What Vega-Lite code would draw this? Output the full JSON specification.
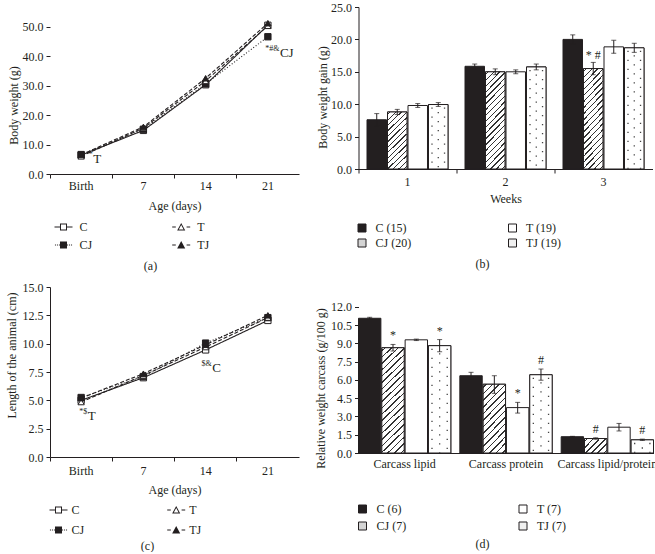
{
"$schema": "https://vega.github.io/schema/vega-lite/v6.json",
"background": "white",
"padding": {"left": 5, "top": 1, "right": 0, "bottom": 0},
"config": {
  "font": "Liberation Serif",
  "view": {"stroke": null},
  "axis": {"labelFont": "Liberation Serif", "labelFontSize": 12, "labelColor": "#231f20", "titleFont": "Liberation Serif", "titleFontSize": 12, "titleFontWeight": "normal", "titleColor": "#231f20", "domainColor": "#231f20", "tickColor": "#231f20", "grid": false, "tickSize": 4, "labelPadding": 3, "labelOverlap": false},
  "legend": {"labelFont": "Liberation Serif", "labelFontSize": 12, "labelColor": "#231f20"},
  "title": {"font": "Liberation Serif", "fontSize": 12, "fontWeight": "normal", "color": "#231f20"},
  "text": {"font": "Liberation Serif"}
},
"datasets": {
  "lineA": [
    {"day": "Birth", "group": "C", "v": 6.4}, {"day": "Birth", "group": "CJ", "v": 6.6}, {"day": "Birth", "group": "T", "v": 6.0}, {"day": "Birth", "group": "TJ", "v": 6.5},
    {"day": "7", "group": "C", "v": 14.8}, {"day": "7", "group": "CJ", "v": 15.2}, {"day": "7", "group": "T", "v": 15.6}, {"day": "7", "group": "TJ", "v": 16.0},
    {"day": "14", "group": "C", "v": 30.3}, {"day": "14", "group": "CJ", "v": 30.6}, {"day": "14", "group": "T", "v": 31.6}, {"day": "14", "group": "TJ", "v": 32.5},
    {"day": "21", "group": "C", "v": 50.5}, {"day": "21", "group": "CJ", "v": 46.6}, {"day": "21", "group": "T", "v": 50.3}, {"day": "21", "group": "TJ", "v": 51.2}
  ],
  "annA": [
    {"day": "Birth", "y": 5.1, "sup": "*", "main": "T"},
    {"day": "21", "y": 41.2, "sup": "*#&", "main": "CJ"}
  ],
  "lineC": [
    {"day": "Birth", "group": "C", "v": 5.0}, {"day": "Birth", "group": "CJ", "v": 5.25}, {"day": "Birth", "group": "T", "v": 4.85}, {"day": "Birth", "group": "TJ", "v": 5.2},
    {"day": "7", "group": "C", "v": 7.0}, {"day": "7", "group": "CJ", "v": 7.1}, {"day": "7", "group": "T", "v": 7.2}, {"day": "7", "group": "TJ", "v": 7.35},
    {"day": "14", "group": "C", "v": 9.45}, {"day": "14", "group": "CJ", "v": 10.05}, {"day": "14", "group": "T", "v": 9.7}, {"day": "14", "group": "TJ", "v": 9.9},
    {"day": "21", "group": "C", "v": 12.05}, {"day": "21", "group": "CJ", "v": 12.3}, {"day": "21", "group": "T", "v": 12.3}, {"day": "21", "group": "TJ", "v": 12.5}
  ],
  "annC": [
    {"day": "Birth", "y": 3.62, "sup": "*$", "main": "T"},
    {"day": "14", "y": 7.85, "sup": "$&", "main": "C"}
  ],
  "barB": [
    {"week": "1", "group": "C", "v": 7.6, "lo": 6.7, "hi": 8.55},
    {"week": "1", "group": "CJ", "v": 8.8, "lo": 8.4, "hi": 9.2},
    {"week": "1", "group": "T", "v": 9.8, "lo": 9.5, "hi": 10.1},
    {"week": "1", "group": "TJ", "v": 9.95, "lo": 9.65, "hi": 10.25},
    {"week": "2", "group": "C", "v": 15.85, "lo": 15.5, "hi": 16.2},
    {"week": "2", "group": "CJ", "v": 15.0, "lo": 14.55, "hi": 15.45},
    {"week": "2", "group": "T", "v": 15.0, "lo": 14.7, "hi": 15.3},
    {"week": "2", "group": "TJ", "v": 15.75, "lo": 15.3, "hi": 16.2},
    {"week": "3", "group": "C", "v": 20.0, "lo": 19.3, "hi": 20.7},
    {"week": "3", "group": "CJ", "v": 15.5, "lo": 14.55, "hi": 16.45},
    {"week": "3", "group": "T", "v": 18.85, "lo": 17.85, "hi": 19.85},
    {"week": "3", "group": "TJ", "v": 18.7, "lo": 18.0, "hi": 19.4}
  ],
  "annB": [
    {"week": "3", "group": "CJ", "hi": 16.45, "t": "* #"}
  ],
  "barD": [
    {"cat": "Carcass lipid", "group": "C", "v": 11.07, "lo": 10.98, "hi": 11.15},
    {"cat": "Carcass lipid", "group": "CJ", "v": 8.65, "lo": 8.38, "hi": 8.92},
    {"cat": "Carcass lipid", "group": "T", "v": 9.3, "lo": 9.24, "hi": 9.36},
    {"cat": "Carcass lipid", "group": "TJ", "v": 8.82, "lo": 8.32, "hi": 9.32},
    {"cat": "Carcass protein", "group": "C", "v": 6.35, "lo": 6.07, "hi": 6.63},
    {"cat": "Carcass protein", "group": "CJ", "v": 5.65, "lo": 4.9, "hi": 6.35},
    {"cat": "Carcass protein", "group": "T", "v": 3.73, "lo": 3.28, "hi": 4.16},
    {"cat": "Carcass protein", "group": "TJ", "v": 6.43, "lo": 5.98, "hi": 6.9},
    {"cat": "Carcass lipid/protein", "group": "C", "v": 1.34, "lo": 1.31, "hi": 1.37},
    {"cat": "Carcass lipid/protein", "group": "CJ", "v": 1.19, "lo": 1.13, "hi": 1.25},
    {"cat": "Carcass lipid/protein", "group": "T", "v": 2.12, "lo": 1.81, "hi": 2.43},
    {"cat": "Carcass lipid/protein", "group": "TJ", "v": 1.08, "lo": 1.03, "hi": 1.14}
  ],
  "annD": [
    {"cat": "Carcass lipid", "group": "CJ", "hi": 8.92, "t": "*"},
    {"cat": "Carcass lipid", "group": "TJ", "hi": 9.32, "t": "*"},
    {"cat": "Carcass protein", "group": "T", "hi": 4.16, "t": "*"},
    {"cat": "Carcass protein", "group": "TJ", "hi": 6.9, "t": "#"},
    {"cat": "Carcass lipid/protein", "group": "CJ", "hi": 1.25, "t": "#"},
    {"cat": "Carcass lipid/protein", "group": "TJ", "hi": 1.14, "t": "#"}
  ]
},
"columns": 2,
"spacing": {"row": 113, "column": 59.5},
"bounds": "flush",
"resolve": {"scale": {"fill": "independent", "shape": "independent", "strokeDash": "independent", "xOffset": "independent", "color": "independent", "size": "independent", "opacity": "independent", "stroke": "independent"}},
"concat": [
{
  "width": 249, "height": 167,
  "title": {"text": "(a)", "orient": "bottom", "anchor": "middle", "frame": "group", "offset": 10, "dx": -24},
  "resolve": {"scale": {"shape": "independent"}},
  "data": {"name": "lineA"},
  "encoding": {
    "x": {"field": "day", "type": "ordinal", "bandPosition": 0.5, "scale": {"type": "band", "domain": ["Birth", "7", "14", "21"], "paddingInner": 0, "paddingOuter": 0}, "axis": {"title": "Age (days)", "bandPosition": 0, "labelOffset": 0, "labelAngle": 0, "labelPadding": 2, "titleY": 31, "titleBaseline": "middle"}},
    "y": {"field": "v", "type": "quantitative", "scale": {"domain": [0, 56.7], "nice": false}, "axis": {"title": "Body weight (g)", "values": [0, 10, 20, 30, 40, 50], "format": ".1f", "domain": false, "titleX": -36.5, "titleY": 98, "titleBaseline": "middle"}}
  },
  "layer": [
    {"data": {"values": [{}]}, "mark": {"type": "rule", "color": "#231f20", "strokeWidth": 1},
     "encoding": {"x": {"datum": "Birth", "type": "ordinal", "bandPosition": 0}, "y": {"datum": 0, "type": "quantitative"}, "y2": {"datum": 55}}},
    {"mark": {"type": "line", "color": "#231f20", "strokeWidth": 1.1},
     "encoding": {
       "strokeDash": {"field": "group", "type": "nominal", "scale": {"domain": ["C", "T", "CJ", "TJ"], "range": [[1, 0], [4, 2], [1, 2], [4, 2]]}, "legend": null}
     }},
    {"mark": {"type": "point", "filled": true, "stroke": "#231f20", "strokeWidth": 1, "size": 40, "opacity": 1},
     "encoding": {
       "shape": {"field": "group", "type": "nominal", "scale": {"domain": ["C", "CJ", "T", "TJ"], "range": ["square", "square", "triangle-up", "triangle-up"]}, "legend": null},
       "fill": {"field": "group", "type": "nominal", "scale": {"domain": ["C", "CJ", "T", "TJ"], "range": ["white", "#231f20", "white", "#231f20"]}, "legend": null}
     }},
    {"mark": {"type": "point", "filled": true, "opacity": 0, "color": "#231f20"},
     "encoding": {
       "shape": {"field": "group", "type": "nominal",
         "scale": {"domain": ["C", "CJ", "T", "TJ"], "range": [
           "M-1,-0.055H-0.39V0.055H-1Z M-0.39,-0.39H0.39V0.39H-0.39Z M-0.28,-0.28V0.28H0.28V-0.28Z M0.39,-0.055H1V0.055H0.39Z",
           "M-0.95,-0.055h0.11v0.11h-0.11Z M-0.73,-0.055h0.11v0.11h-0.11Z M-0.51,-0.055h0.11v0.11h-0.11Z M-0.39,-0.39H0.39V0.39H-0.39Z M0.4,-0.055h0.11v0.11h-0.11Z M0.62,-0.055h0.11v0.11h-0.11Z M0.84,-0.055h0.11v0.11h-0.11Z",
           "M-1,-0.055H-0.6V0.055H-1Z M0,-0.45L0.45,0.38L-0.45,0.38Z M0,-0.22L-0.266,0.27L0.266,0.27Z M0.6,-0.055H1V0.055H0.6Z",
           "M-1,-0.055H-0.6V0.055H-1Z M0,-0.45L0.45,0.38L-0.45,0.38Z M0.6,-0.055H1V0.055H0.6Z"]},
         "legend": {"orient": "none", "legendX": 4.5, "legendY": 211, "columns": 2, "columnPadding": 79.7, "rowPadding": 3, "title": null, "values": ["C", "CJ", "T", "TJ"], "symbolSize": 324, "symbolOpacity": 1, "symbolStrokeWidth": 0, "labelOffset": 7}}
     }},
    {"data": {"name": "annA"}, "mark": {"type": "text", "align": "left", "baseline": "middle", "dx": 12, "fontSize": 13, "color": "#231f20"},
     "encoding": {"y": {"field": "y", "type": "quantitative"}, "text": {"field": "main"}}},
    {"data": {"name": "annA"}, "mark": {"type": "text", "align": "right", "baseline": "middle", "dx": 11.5, "dy": -4, "fontSize": 8, "color": "#231f20"},
     "encoding": {"y": {"field": "y", "type": "quantitative"}, "text": {"field": "sup"}}}
  ]
},
{
  "width": 294, "height": 162,
  "title": {"text": "(b)", "orient": "bottom", "anchor": "middle", "frame": "group", "offset": 10, "dx": -23},
  "data": {"name": "barB"},
  "encoding": {
    "x": {"field": "week", "type": "ordinal", "scale": {"type": "band", "domain": ["1", "2", "3"], "paddingInner": 0, "paddingOuter": 0}, "axis": {"title": "Weeks", "bandPosition": 0, "labelOffset": 0, "labelAngle": 0, "titleY": 29, "titleBaseline": "middle"}},
    "y": {"field": "v", "type": "quantitative", "scale": {"domain": [0, 25], "nice": false}, "axis": {"title": "Body weight gain (g)", "values": [0, 5, 10, 15, 20, 25], "format": ".1f", "titleX": -36, "titleY": 90, "titleBaseline": "middle"}}
  },
  "layer": [
    {"mark": {"type": "bar", "stroke": "#231f20", "strokeWidth": 1},
     "encoding": {
       "xOffset": {"field": "group", "type": "nominal", "scale": {"domain": ["C", "CJ", "T", "TJ"], "paddingInner": 0.05, "paddingOuter": 0.415}},
       "fill": {"field": "group", "type": "nominal",
         "scale": {"domain": ["C", "CJ", "T", "TJ"], "range": ["#231f20", "#d4d4d4", "white", "#f0f0f0"]},
         "legend": {"orient": "none", "legendX": -2.5, "legendY": 215, "columns": 2, "columnPadding": 94.5, "rowPadding": 3, "title": null, "symbolType": "square", "symbolSize": 64, "symbolStrokeColor": "#231f20", "symbolStrokeWidth": 1, "labelOffset": 7.5,
           "labelExpr": "datum.label == 'C' ? 'C (15)' : datum.label == 'CJ' ? 'CJ (20)' : datum.label == 'T' ? 'T (19)' : 'TJ (19)'"}}
     }},
    {"transform": [{"filter": "datum.group == 'CJ' && datum.week != '1'"}],
     "mark": {"type": "bar", "stroke": "#231f20", "strokeWidth": 1, "fill": {"gradient": "linear", "x1": 0, "y1": 0, "x2": 0.237, "y2": 1.156, "stops": [
       {"offset":0.019,"color":"white"},{"offset":0.019,"color":"#333"},{"offset":0.031,"color":"#333"},{"offset":0.031,"color":"white"},
       {"offset":0.069,"color":"white"},{"offset":0.069,"color":"#333"},{"offset":0.081,"color":"#333"},{"offset":0.081,"color":"white"},
       {"offset":0.119,"color":"white"},{"offset":0.119,"color":"#333"},{"offset":0.131,"color":"#333"},{"offset":0.131,"color":"white"},
       {"offset":0.169,"color":"white"},{"offset":0.169,"color":"#333"},{"offset":0.181,"color":"#333"},{"offset":0.181,"color":"white"},
       {"offset":0.219,"color":"white"},{"offset":0.219,"color":"#333"},{"offset":0.231,"color":"#333"},{"offset":0.231,"color":"white"},
       {"offset":0.269,"color":"white"},{"offset":0.269,"color":"#333"},{"offset":0.281,"color":"#333"},{"offset":0.281,"color":"white"},
       {"offset":0.319,"color":"white"},{"offset":0.319,"color":"#333"},{"offset":0.331,"color":"#333"},{"offset":0.331,"color":"white"},
       {"offset":0.369,"color":"white"},{"offset":0.369,"color":"#333"},{"offset":0.381,"color":"#333"},{"offset":0.381,"color":"white"},
       {"offset":0.419,"color":"white"},{"offset":0.419,"color":"#333"},{"offset":0.431,"color":"#333"},{"offset":0.431,"color":"white"},
       {"offset":0.469,"color":"white"},{"offset":0.469,"color":"#333"},{"offset":0.481,"color":"#333"},{"offset":0.481,"color":"white"},
       {"offset":0.519,"color":"white"},{"offset":0.519,"color":"#333"},{"offset":0.531,"color":"#333"},{"offset":0.531,"color":"white"},
       {"offset":0.569,"color":"white"},{"offset":0.569,"color":"#333"},{"offset":0.581,"color":"#333"},{"offset":0.581,"color":"white"},
       {"offset":0.619,"color":"white"},{"offset":0.619,"color":"#333"},{"offset":0.631,"color":"#333"},{"offset":0.631,"color":"white"},
       {"offset":0.669,"color":"white"},{"offset":0.669,"color":"#333"},{"offset":0.681,"color":"#333"},{"offset":0.681,"color":"white"},
       {"offset":0.719,"color":"white"},{"offset":0.719,"color":"#333"},{"offset":0.731,"color":"#333"},{"offset":0.731,"color":"white"},
       {"offset":0.769,"color":"white"},{"offset":0.769,"color":"#333"},{"offset":0.781,"color":"#333"},{"offset":0.781,"color":"white"},
       {"offset":0.819,"color":"white"},{"offset":0.819,"color":"#333"},{"offset":0.831,"color":"#333"},{"offset":0.831,"color":"white"},
       {"offset":0.869,"color":"white"},{"offset":0.869,"color":"#333"},{"offset":0.881,"color":"#333"},{"offset":0.881,"color":"white"},
       {"offset":0.919,"color":"white"},{"offset":0.919,"color":"#333"},{"offset":0.931,"color":"#333"},{"offset":0.931,"color":"white"},
       {"offset":0.969,"color":"white"},{"offset":0.969,"color":"#333"},{"offset":0.981,"color":"#333"},{"offset":0.981,"color":"white"}]}},
     "encoding": {"xOffset": {"field": "group", "type": "nominal"}}},
    {"transform": [{"filter": "datum.group == 'CJ' && datum.week == '1'"}],
     "mark": {"type": "bar", "stroke": "#231f20", "strokeWidth": 1, "fill": {"gradient": "linear", "x1": 0, "y1": 0, "x2": 0.4, "y2": 1.2, "stops": [
       {"offset":0.0271,"color":"white"},{"offset":0.0271,"color":"#333"},{"offset":0.0443,"color":"#333"},{"offset":0.0443,"color":"white"},
       {"offset":0.0986,"color":"white"},{"offset":0.0986,"color":"#333"},{"offset":0.1157,"color":"#333"},{"offset":0.1157,"color":"white"},
       {"offset":0.17,"color":"white"},{"offset":0.17,"color":"#333"},{"offset":0.1871,"color":"#333"},{"offset":0.1871,"color":"white"},
       {"offset":0.2414,"color":"white"},{"offset":0.2414,"color":"#333"},{"offset":0.2586,"color":"#333"},{"offset":0.2586,"color":"white"},
       {"offset":0.3129,"color":"white"},{"offset":0.3129,"color":"#333"},{"offset":0.33,"color":"#333"},{"offset":0.33,"color":"white"},
       {"offset":0.3843,"color":"white"},{"offset":0.3843,"color":"#333"},{"offset":0.4014,"color":"#333"},{"offset":0.4014,"color":"white"},
       {"offset":0.4557,"color":"white"},{"offset":0.4557,"color":"#333"},{"offset":0.4729,"color":"#333"},{"offset":0.4729,"color":"white"},
       {"offset":0.5271,"color":"white"},{"offset":0.5271,"color":"#333"},{"offset":0.5443,"color":"#333"},{"offset":0.5443,"color":"white"},
       {"offset":0.5986,"color":"white"},{"offset":0.5986,"color":"#333"},{"offset":0.6157,"color":"#333"},{"offset":0.6157,"color":"white"},
       {"offset":0.67,"color":"white"},{"offset":0.67,"color":"#333"},{"offset":0.6871,"color":"#333"},{"offset":0.6871,"color":"white"},
       {"offset":0.7414,"color":"white"},{"offset":0.7414,"color":"#333"},{"offset":0.7586,"color":"#333"},{"offset":0.7586,"color":"white"},
       {"offset":0.8129,"color":"white"},{"offset":0.8129,"color":"#333"},{"offset":0.83,"color":"#333"},{"offset":0.83,"color":"white"},
       {"offset":0.8843,"color":"white"},{"offset":0.8843,"color":"#333"},{"offset":0.9014,"color":"#333"},{"offset":0.9014,"color":"white"},
       {"offset":0.9557,"color":"white"},{"offset":0.9557,"color":"#333"},{"offset":0.9729,"color":"#333"},{"offset":0.9729,"color":"white"}]}},
     "encoding": {"xOffset": {"field": "group", "type": "nominal"}}},
    {"transform": [{"filter": "datum.group == 'TJ'"}],
     "mark": {"type": "bar", "stroke": "#231f20", "strokeWidth": 1, "fill": "white"},
     "encoding": {"xOffset": {"field": "group", "type": "nominal"}}},
    {"transform": [{"filter": "datum.group == 'TJ'"}],
     "mark": {"type": "rule", "color": "#444", "strokeWidth": 1.3, "strokeDash": [1.3, 7.7], "strokeDashOffset": 6},
     "encoding": {"x": {"field": "week", "type": "ordinal", "bandPosition": 0.75}, "y2": {"datum": 0}}},
    {"transform": [{"filter": "datum.group == 'TJ'"}],
     "mark": {"type": "rule", "color": "#444", "strokeWidth": 1.3, "strokeDash": [1.3, 7.7], "strokeDashOffset": 1.5},
     "encoding": {"x": {"field": "week", "type": "ordinal", "bandPosition": 0.814}, "y2": {"datum": 0}}},
    {"transform": [{"filter": "datum.group == 'TJ'"}],
     "mark": {"type": "rule", "color": "#444", "strokeWidth": 1.3, "strokeDash": [1.3, 7.7], "strokeDashOffset": 6},
     "encoding": {"x": {"field": "week", "type": "ordinal", "bandPosition": 0.878}, "y2": {"datum": 0}}},
    {"mark": {"type": "rule", "color": "#231f20", "strokeWidth": 1},
     "encoding": {"xOffset": {"field": "group", "type": "nominal"}, "y": {"field": "lo", "type": "quantitative"}, "y2": {"field": "hi"}}},
    {"mark": {"type": "tick", "color": "#231f20", "thickness": 1, "size": 5},
     "encoding": {"xOffset": {"field": "group", "type": "nominal"}, "y": {"field": "hi", "type": "quantitative"}}},
    {"mark": {"type": "tick", "color": "#231f20", "thickness": 1, "size": 5},
     "encoding": {"xOffset": {"field": "group", "type": "nominal"}, "y": {"field": "lo", "type": "quantitative"}}},
    {"data": {"name": "annB"}, "mark": {"type": "text", "baseline": "middle", "dy": -7, "fontSize": 12, "color": "#231f20"},
     "encoding": {"xOffset": {"field": "group", "type": "nominal"}, "y": {"field": "hi", "type": "quantitative"}, "text": {"field": "t"}}}
  ]
},
{
  "width": 249, "height": 170,
  "title": {"text": "(c)", "orient": "bottom", "anchor": "middle", "frame": "group", "offset": 5, "dx": -27},
  "resolve": {"scale": {"shape": "independent"}},
  "data": {"name": "lineC"},
  "encoding": {
    "x": {"field": "day", "type": "ordinal", "bandPosition": 0.5, "scale": {"type": "band", "domain": ["Birth", "7", "14", "21"], "paddingInner": 0, "paddingOuter": 0}, "axis": {"title": "Age (days)", "bandPosition": 0, "labelOffset": 0, "labelAngle": 0, "labelPadding": 4, "titleY": 32, "titleBaseline": "middle"}},
    "y": {"field": "v", "type": "quantitative", "scale": {"domain": [0, 15], "nice": false}, "axis": {"title": "Length of the animal (cm)", "values": [0, 2.5, 5, 7.5, 10, 12.5, 15], "format": ".1f", "titleX": -38.5, "titleY": 68, "titleBaseline": "middle"}}
  },
  "layer": [
    {"mark": {"type": "line", "color": "#231f20", "strokeWidth": 1.1},
     "encoding": {
       "strokeDash": {"field": "group", "type": "nominal", "scale": {"domain": ["C", "T", "CJ", "TJ"], "range": [[1, 0], [4, 2], [1, 2], [4, 2]]}, "legend": null}
     }},
    {"mark": {"type": "point", "filled": true, "stroke": "#231f20", "strokeWidth": 1, "size": 40, "opacity": 1},
     "encoding": {
       "shape": {"field": "group", "type": "nominal", "scale": {"domain": ["C", "CJ", "T", "TJ"], "range": ["square", "square", "triangle-up", "triangle-up"]}, "legend": null},
       "fill": {"field": "group", "type": "nominal", "scale": {"domain": ["C", "CJ", "T", "TJ"], "range": ["white", "#231f20", "white", "#231f20"]}, "legend": null}
     }},
    {"mark": {"type": "point", "filled": true, "opacity": 0, "color": "#231f20"},
     "encoding": {
       "shape": {"field": "group", "type": "nominal",
         "scale": {"domain": ["C", "CJ", "T", "TJ"], "range": [
           "M-1,-0.055H-0.39V0.055H-1Z M-0.39,-0.39H0.39V0.39H-0.39Z M-0.28,-0.28V0.28H0.28V-0.28Z M0.39,-0.055H1V0.055H0.39Z",
           "M-0.95,-0.055h0.11v0.11h-0.11Z M-0.73,-0.055h0.11v0.11h-0.11Z M-0.51,-0.055h0.11v0.11h-0.11Z M-0.39,-0.39H0.39V0.39H-0.39Z M0.4,-0.055h0.11v0.11h-0.11Z M0.62,-0.055h0.11v0.11h-0.11Z M0.84,-0.055h0.11v0.11h-0.11Z",
           "M-1,-0.055H-0.6V0.055H-1Z M0,-0.45L0.45,0.38L-0.45,0.38Z M0,-0.22L-0.266,0.27L0.266,0.27Z M0.6,-0.055H1V0.055H0.6Z",
           "M-1,-0.055H-0.6V0.055H-1Z M0,-0.45L0.45,0.38L-0.45,0.38Z M0.6,-0.055H1V0.055H0.6Z"]},
         "legend": {"orient": "none", "legendX": -0.5, "legendY": 214, "columns": 2, "columnPadding": 82.7, "rowPadding": 5, "title": null, "values": ["C", "CJ", "T", "TJ"], "symbolSize": 324, "symbolOpacity": 1, "symbolStrokeWidth": 0, "labelOffset": 4}}
     }},
    {"data": {"name": "annC"}, "mark": {"type": "text", "align": "left", "baseline": "middle", "dx": 6.5, "fontSize": 13, "color": "#231f20"},
     "encoding": {"y": {"field": "y", "type": "quantitative"}, "text": {"field": "main"}}},
    {"data": {"name": "annC"}, "mark": {"type": "text", "align": "right", "baseline": "middle", "dx": 6, "dy": -4, "fontSize": 8, "color": "#231f20"},
     "encoding": {"y": {"field": "y", "type": "quantitative"}, "text": {"field": "sup"}}}
  ]
},
{
  "width": 295, "height": 166,
  "title": {"text": "(d)", "orient": "bottom", "anchor": "middle", "frame": "group", "offset": 7, "dx": -23.5},
  "data": {"name": "barD"},
  "encoding": {
    "x": {"field": "cat", "type": "ordinal", "scale": {"type": "band", "domain": ["Carcass lipid", "Carcass protein", "Carcass lipid/protein"], "paddingInner": 0.089, "paddingOuter": 0}, "axis": {"title": null, "ticks": false, "labelPadding": 5, "labelAngle": 0, "labelLimit": 300}},
    "y": {"field": "v", "type": "quantitative", "scale": {"domain": [0, 13.64], "nice": false}, "axis": {"title": "Relative weight carcass (g/100 g)", "values": [0, 1.5, 3, 4.5, 6, 7.5, 9, 10.5, 12], "format": ".1f", "domain": false, "titleX": -38, "titleY": 101, "titleBaseline": "middle"}}
  },
  "layer": [
    {"data": {"values": [{}]}, "mark": {"type": "rule", "color": "#231f20", "strokeWidth": 1},
     "encoding": {"x": {"datum": "Carcass lipid", "type": "ordinal", "bandPosition": 0}, "y": {"datum": 0, "type": "quantitative"}, "y2": {"datum": 12}}},
    {"mark": {"type": "bar", "stroke": "#231f20", "strokeWidth": 1},
     "encoding": {
       "xOffset": {"field": "group", "type": "nominal", "scale": {"domain": ["C", "CJ", "T", "TJ"], "paddingInner": 0.04, "paddingOuter": 0}},
       "fill": {"field": "group", "type": "nominal",
         "scale": {"domain": ["C", "CJ", "T", "TJ"], "range": ["#231f20", "#d4d4d4", "white", "#f0f0f0"]},
         "legend": {"orient": "none", "legendX": -2, "legendY": 216, "columns": 2, "columnPadding": 110.5, "rowPadding": 5, "title": null, "symbolType": "square", "symbolSize": 64, "symbolStrokeColor": "#231f20", "symbolStrokeWidth": 1, "labelOffset": 8,
           "labelExpr": "datum.label == 'C' ? 'C (6)' : datum.label == 'CJ' ? 'CJ (7)' : datum.label == 'T' ? 'T (7)' : 'TJ (7)'"}}
     }},
    {"transform": [{"filter": "datum.group == 'CJ' && datum.cat == 'Carcass lipid'"}],
     "mark": {"type": "bar", "stroke": "#231f20", "strokeWidth": 1, "fill": {"gradient": "linear", "x1": 0, "y1": 0, "x2": 0.237, "y2": 1.156, "stops": [
       {"offset":0.019,"color":"white"},{"offset":0.019,"color":"#333"},{"offset":0.031,"color":"#333"},{"offset":0.031,"color":"white"},
       {"offset":0.069,"color":"white"},{"offset":0.069,"color":"#333"},{"offset":0.081,"color":"#333"},{"offset":0.081,"color":"white"},
       {"offset":0.119,"color":"white"},{"offset":0.119,"color":"#333"},{"offset":0.131,"color":"#333"},{"offset":0.131,"color":"white"},
       {"offset":0.169,"color":"white"},{"offset":0.169,"color":"#333"},{"offset":0.181,"color":"#333"},{"offset":0.181,"color":"white"},
       {"offset":0.219,"color":"white"},{"offset":0.219,"color":"#333"},{"offset":0.231,"color":"#333"},{"offset":0.231,"color":"white"},
       {"offset":0.269,"color":"white"},{"offset":0.269,"color":"#333"},{"offset":0.281,"color":"#333"},{"offset":0.281,"color":"white"},
       {"offset":0.319,"color":"white"},{"offset":0.319,"color":"#333"},{"offset":0.331,"color":"#333"},{"offset":0.331,"color":"white"},
       {"offset":0.369,"color":"white"},{"offset":0.369,"color":"#333"},{"offset":0.381,"color":"#333"},{"offset":0.381,"color":"white"},
       {"offset":0.419,"color":"white"},{"offset":0.419,"color":"#333"},{"offset":0.431,"color":"#333"},{"offset":0.431,"color":"white"},
       {"offset":0.469,"color":"white"},{"offset":0.469,"color":"#333"},{"offset":0.481,"color":"#333"},{"offset":0.481,"color":"white"},
       {"offset":0.519,"color":"white"},{"offset":0.519,"color":"#333"},{"offset":0.531,"color":"#333"},{"offset":0.531,"color":"white"},
       {"offset":0.569,"color":"white"},{"offset":0.569,"color":"#333"},{"offset":0.581,"color":"#333"},{"offset":0.581,"color":"white"},
       {"offset":0.619,"color":"white"},{"offset":0.619,"color":"#333"},{"offset":0.631,"color":"#333"},{"offset":0.631,"color":"white"},
       {"offset":0.669,"color":"white"},{"offset":0.669,"color":"#333"},{"offset":0.681,"color":"#333"},{"offset":0.681,"color":"white"},
       {"offset":0.719,"color":"white"},{"offset":0.719,"color":"#333"},{"offset":0.731,"color":"#333"},{"offset":0.731,"color":"white"},
       {"offset":0.769,"color":"white"},{"offset":0.769,"color":"#333"},{"offset":0.781,"color":"#333"},{"offset":0.781,"color":"white"},
       {"offset":0.819,"color":"white"},{"offset":0.819,"color":"#333"},{"offset":0.831,"color":"#333"},{"offset":0.831,"color":"white"},
       {"offset":0.869,"color":"white"},{"offset":0.869,"color":"#333"},{"offset":0.881,"color":"#333"},{"offset":0.881,"color":"white"},
       {"offset":0.919,"color":"white"},{"offset":0.919,"color":"#333"},{"offset":0.931,"color":"#333"},{"offset":0.931,"color":"white"},
       {"offset":0.969,"color":"white"},{"offset":0.969,"color":"#333"},{"offset":0.981,"color":"#333"},{"offset":0.981,"color":"white"}]}},
     "encoding": {"xOffset": {"field": "group", "type": "nominal"}}},
    {"transform": [{"filter": "datum.group == 'CJ' && datum.cat == 'Carcass protein'"}],
     "mark": {"type": "bar", "stroke": "#231f20", "strokeWidth": 1, "fill": {"gradient": "linear", "x1": 0, "y1": 0, "x2": 0.4, "y2": 1.2, "stops": [
       {"offset":0.0271,"color":"white"},{"offset":0.0271,"color":"#333"},{"offset":0.0443,"color":"#333"},{"offset":0.0443,"color":"white"},
       {"offset":0.0986,"color":"white"},{"offset":0.0986,"color":"#333"},{"offset":0.1157,"color":"#333"},{"offset":0.1157,"color":"white"},
       {"offset":0.17,"color":"white"},{"offset":0.17,"color":"#333"},{"offset":0.1871,"color":"#333"},{"offset":0.1871,"color":"white"},
       {"offset":0.2414,"color":"white"},{"offset":0.2414,"color":"#333"},{"offset":0.2586,"color":"#333"},{"offset":0.2586,"color":"white"},
       {"offset":0.3129,"color":"white"},{"offset":0.3129,"color":"#333"},{"offset":0.33,"color":"#333"},{"offset":0.33,"color":"white"},
       {"offset":0.3843,"color":"white"},{"offset":0.3843,"color":"#333"},{"offset":0.4014,"color":"#333"},{"offset":0.4014,"color":"white"},
       {"offset":0.4557,"color":"white"},{"offset":0.4557,"color":"#333"},{"offset":0.4729,"color":"#333"},{"offset":0.4729,"color":"white"},
       {"offset":0.5271,"color":"white"},{"offset":0.5271,"color":"#333"},{"offset":0.5443,"color":"#333"},{"offset":0.5443,"color":"white"},
       {"offset":0.5986,"color":"white"},{"offset":0.5986,"color":"#333"},{"offset":0.6157,"color":"#333"},{"offset":0.6157,"color":"white"},
       {"offset":0.67,"color":"white"},{"offset":0.67,"color":"#333"},{"offset":0.6871,"color":"#333"},{"offset":0.6871,"color":"white"},
       {"offset":0.7414,"color":"white"},{"offset":0.7414,"color":"#333"},{"offset":0.7586,"color":"#333"},{"offset":0.7586,"color":"white"},
       {"offset":0.8129,"color":"white"},{"offset":0.8129,"color":"#333"},{"offset":0.83,"color":"#333"},{"offset":0.83,"color":"white"},
       {"offset":0.8843,"color":"white"},{"offset":0.8843,"color":"#333"},{"offset":0.9014,"color":"#333"},{"offset":0.9014,"color":"white"},
       {"offset":0.9557,"color":"white"},{"offset":0.9557,"color":"#333"},{"offset":0.9729,"color":"#333"},{"offset":0.9729,"color":"white"}]}},
     "encoding": {"xOffset": {"field": "group", "type": "nominal"}}},
    {"transform": [{"filter": "datum.group == 'CJ' && datum.cat == 'Carcass lipid/protein'"}],
     "mark": {"type": "bar", "stroke": "#231f20", "strokeWidth": 1, "fill": {"gradient": "linear", "x1": 0, "y1": 0, "x2": 1.165, "y2": 0.738, "stops": [
       {"offset":0.0633,"color":"white"},{"offset":0.0633,"color":"#333"},{"offset":0.1033,"color":"#333"},{"offset":0.1033,"color":"white"},
       {"offset":0.23,"color":"white"},{"offset":0.23,"color":"#333"},{"offset":0.27,"color":"#333"},{"offset":0.27,"color":"white"},
       {"offset":0.3967,"color":"white"},{"offset":0.3967,"color":"#333"},{"offset":0.4367,"color":"#333"},{"offset":0.4367,"color":"white"},
       {"offset":0.5633,"color":"white"},{"offset":0.5633,"color":"#333"},{"offset":0.6033,"color":"#333"},{"offset":0.6033,"color":"white"},
       {"offset":0.73,"color":"white"},{"offset":0.73,"color":"#333"},{"offset":0.77,"color":"#333"},{"offset":0.77,"color":"white"},
       {"offset":0.8967,"color":"white"},{"offset":0.8967,"color":"#333"},{"offset":0.9367,"color":"#333"},{"offset":0.9367,"color":"white"}]}},
     "encoding": {"xOffset": {"field": "group", "type": "nominal"}}},
    {"transform": [{"filter": "datum.group == 'TJ'"}],
     "mark": {"type": "bar", "stroke": "#231f20", "strokeWidth": 1, "fill": "white"},
     "encoding": {"xOffset": {"field": "group", "type": "nominal"}}},
    {"transform": [{"filter": "datum.group == 'TJ'"}],
     "mark": {"type": "rule", "color": "#444", "strokeWidth": 1.3, "strokeDash": [1.3, 7.7], "strokeDashOffset": 6},
     "encoding": {"x": {"field": "cat", "type": "ordinal", "bandPosition": 0.796}, "y2": {"datum": 0}}},
    {"transform": [{"filter": "datum.group == 'TJ'"}],
     "mark": {"type": "rule", "color": "#444", "strokeWidth": 1.3, "strokeDash": [1.3, 7.7], "strokeDashOffset": 1.5},
     "encoding": {"x": {"field": "cat", "type": "ordinal", "bandPosition": 0.879}, "y2": {"datum": 0}}},
    {"transform": [{"filter": "datum.group == 'TJ'"}],
     "mark": {"type": "rule", "color": "#444", "strokeWidth": 1.3, "strokeDash": [1.3, 7.7], "strokeDashOffset": 6},
     "encoding": {"x": {"field": "cat", "type": "ordinal", "bandPosition": 0.961}, "y2": {"datum": 0}}},
    {"mark": {"type": "rule", "color": "#231f20", "strokeWidth": 1},
     "encoding": {"xOffset": {"field": "group", "type": "nominal"}, "y": {"field": "lo", "type": "quantitative"}, "y2": {"field": "hi"}}},
    {"mark": {"type": "tick", "color": "#231f20", "thickness": 1, "size": 5},
     "encoding": {"xOffset": {"field": "group", "type": "nominal"}, "y": {"field": "hi", "type": "quantitative"}}},
    {"mark": {"type": "tick", "color": "#231f20", "thickness": 1, "size": 5},
     "encoding": {"xOffset": {"field": "group", "type": "nominal"}, "y": {"field": "lo", "type": "quantitative"}}},
    {"data": {"name": "annD"}, "mark": {"type": "text", "baseline": "middle", "dy": -9, "fontSize": 12, "color": "#231f20"},
     "encoding": {"xOffset": {"field": "group", "type": "nominal"}, "y": {"field": "hi", "type": "quantitative"}, "text": {"field": "t"}}}
  ]
}
]
}
